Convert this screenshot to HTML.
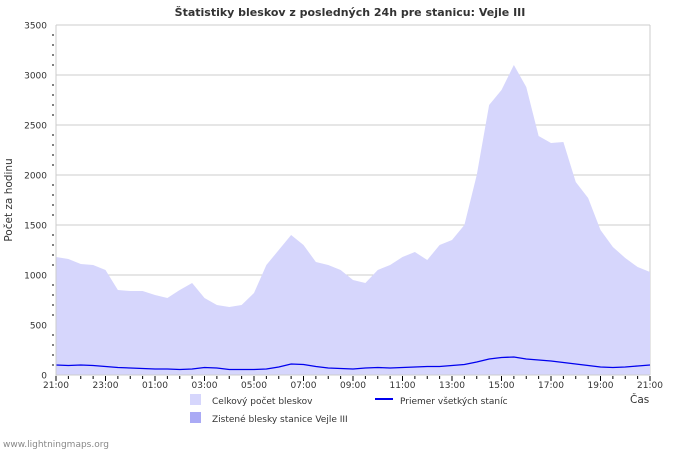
<!DOCTYPE html>
<html><head><meta charset="utf-8"><style>
body{margin:0;background:#fff;font-family:"Liberation Sans",sans-serif}
svg text{font-family:"DejaVu Sans","Liberation Sans",sans-serif}
</style></head><body>
<svg id="c" width="700" height="450" xmlns="http://www.w3.org/2000/svg">
<text x="350" y="16" text-anchor="middle" font-size="11" font-weight="bold" fill="#333">Štatistiky bleskov z posledných 24h pre stanicu: Vejle III</text>
<text x="12" y="200" transform="rotate(-90 12 200)" text-anchor="middle" font-size="10.5" fill="#333">Počet za hodinu</text>
<text x="630" y="403" font-size="10.5" fill="#333">Čas</text>
<g id="grid"></g><g id="area"></g><g id="line"></g><g id="axes"></g>
<g>
<rect x="190" y="394" width="11" height="11" fill="#d6d6fc"/>
<text x="212" y="404" font-size="9" fill="#333">Celkový počet bleskov</text>
<rect x="190" y="412" width="11" height="11" fill="#aaaaf5"/>
<text x="212" y="422" font-size="9" fill="#333">Zistené blesky stanice Vejle III</text>
<line x1="375" y1="399" x2="393" y2="399" stroke="#0000ee" stroke-width="2"/>
<text x="400" y="404" font-size="9" fill="#333">Priemer všetkých staníc</text>
</g>
<text x="3" y="447" font-size="9" fill="#888">www.lightningmaps.org</text>
</svg>
<script>
const totals=[1180,1160,1110,1100,1050,850,840,840,800,770,850,920,770,700,680,700,820,1100,1250,1400,1300,1130,1100,1050,950,920,1050,1100,1180,1230,1150,1300,1350,1500,2000,2700,2850,3100,2880,2390,2320,2330,1930,1770,1450,1280,1170,1080,1030];
const averages=[100,95,100,95,85,75,70,65,60,60,55,60,75,70,55,55,55,60,80,110,105,85,70,65,60,70,75,70,75,80,85,85,95,105,130,160,175,180,160,150,140,125,110,95,80,75,80,90,100];
const yTicks=[0,500,1000,1500,2000,2500,3000,3500];
const xTickLabels=["21:00","23:00","01:00","03:00","05:00","07:00","09:00","11:00","13:00","15:00","17:00","19:00","21:00"];
const X0=56,X1=650,Y0=375,Y1=25,NS="http://www.w3.org/2000/svg";
const xs=i=>X0+(X1-X0)*i/(totals.length-1);
const ys=v=>Y0-(Y0-Y1)*v/3500;
function mk(t,a,p){const e=document.createElementNS(NS,t);for(const k in a)e.setAttribute(k,a[k]);p.appendChild(e);return e;}
const grid=document.getElementById('grid'),axes=document.getElementById('axes');
yTicks.forEach(v=>{
 const g=mk('line',{x1:X0,x2:X1,y1:ys(v),y2:ys(v),stroke:'#ccc'},grid);
 
 
 const t=mk('text',{x:X0-9,y:ys(v)+3.5,'text-anchor':'end','font-size':'9',fill:'#333'},axes);
 t.textContent=v;
 
 
});
for(let i=0;i<=35;i++){const v=i*100;mk('line',{x1:X0-4,x2:X0-(i%5?2:4),y1:ys(v),y2:ys(v),stroke:'#000'},axes);}
mk('line',{x1:X1,x2:X1,y1:Y1,y2:Y0,stroke:'#ccc'},grid);
let d=`M${X0},${Y0}`;totals.forEach((v,i)=>d+=` L${xs(i)},${ys(v)}`);d+=` L${X1},${Y0}Z`;
const area=mk('path',{d:d,fill:'#d6d6fc'},document.getElementById('area'));


let ld='';averages.forEach((v,i)=>ld+=(i?' L':'M')+xs(i)+','+ys(v));
const ln=mk('path',{d:ld,fill:'none',stroke:'#0000ee','stroke-width':1.3},document.getElementById('line'));


mk('line',{x1:X0,x2:X0,y1:Y1,y2:Y0+1,stroke:'#ccc'},axes);
mk('line',{x1:X0,x2:X1,y1:Y0,y2:Y0,stroke:'#ccc'},axes);
for(let i=0;i<=48;i++){const x=X0+(X1-X0)*i/48;mk('line',{x1:x,x2:x,y1:Y0+1,y2:Y0+(i%4?4:6),stroke:'#000'},axes);}
xTickLabels.forEach((s,i)=>{
 const t=mk('text',{x:X0+(X1-X0)*i/12,y:Y0+13,'text-anchor':'middle','font-size':'9',fill:'#333'},axes);
 t.textContent=s;
 
 
});
</script>
</body></html>
